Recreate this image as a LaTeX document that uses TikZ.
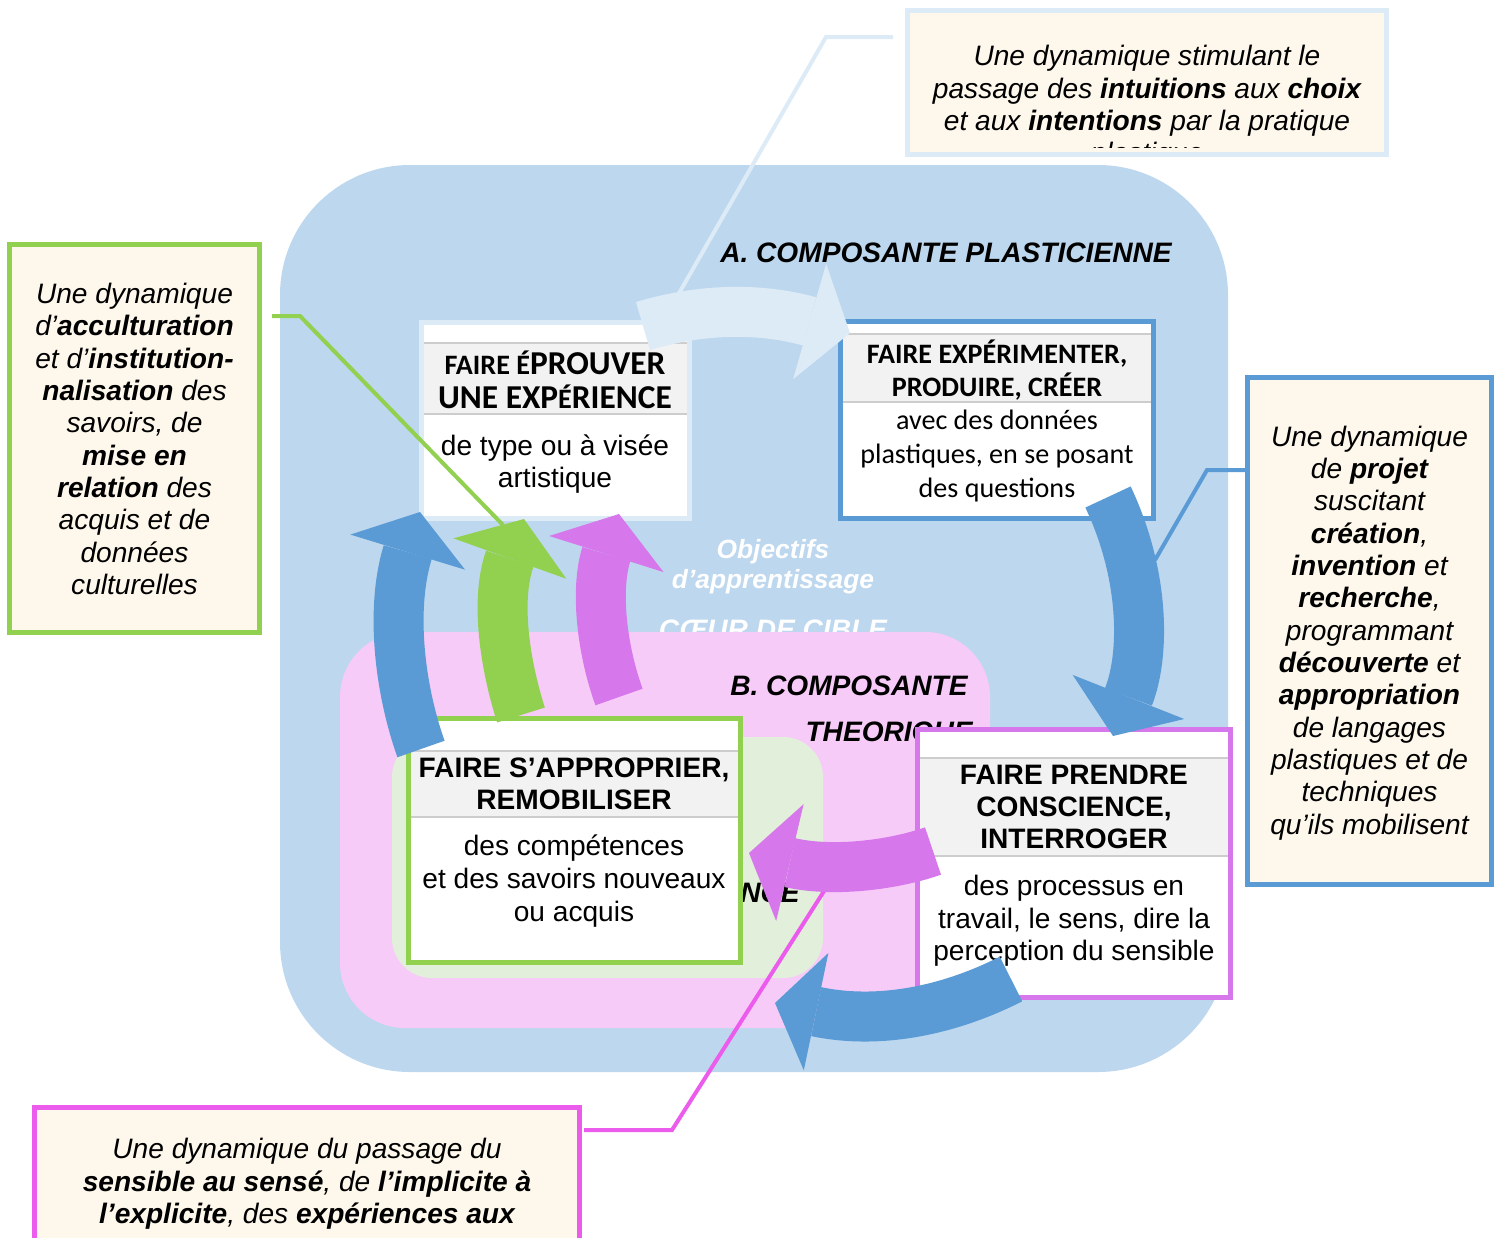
\documentclass[tikz,border=0pt]{standalone}
\usepackage{fontspec}
\setmainfont{Liberation Sans}
\newfontfamily\calibri{Carlito}
\usetikzlibrary{arrows.meta}
\definecolor{fondA}{RGB}{189,215,238}
\definecolor{fondB}{RGB}{247,203,248}
\definecolor{fondC}{RGB}{226,239,218}
\definecolor{bleu}{RGB}{91,155,213}
\definecolor{vert}{RGB}{146,208,80}
\definecolor{mauve}{RGB}{214,120,236}
\definecolor{rose}{RGB}{236,92,236}
\definecolor{ciel}{RGB}{221,235,247}
\definecolor{creme}{RGB}{254,248,236}
\definecolor{gris}{RGB}{242,242,242}
\definecolor{trait}{RGB}{205,205,205}
\begin{document}
\begin{tikzpicture}[x=0.02cm, y=-0.02cm,
	execute at begin picture={\fontsize{16}{18.4}\selectfont},
	bloc/.style={draw, line width=0.1cm, fill=white, inner sep=0pt},
	bulle/.style={draw, line width=0.1cm, fill=creme, inner sep=0pt},
	txt/.style={align=center, inner sep=0pt},
	titre/.style={txt, font=\bfseries\itshape},
	bande/.style={draw=trait, line width=0.6pt},
	fleche/.style={line width=1cm, -{Triangle[width=2.4cm, length=0.84cm, line width=0pt]}},
	lien/.style={line width=0.08cm}]
	\useasboundingbox (0,0) rectangle (1499,1238);
	% fonds
	\fill[fondA, rounded corners=2.6cm] (280,165) rectangle (1228,1072);
	\node[titre, anchor=east] (compA) at (1172,253) {A. COMPOSANTE PLASTICIENNE};
	\node[titre, text=white, font=\bfseries\itshape\fontsize{15}{17}\selectfont] (objectifs) at (773,567) {Objectifs\\d’apprentissage};
	\node[titre, text=white] (coeur) at (773,630) {CŒUR DE CIBLE};
	\fill[fondB, rounded corners=1.3cm] (340,632) rectangle (990,1028);
	\node[titre, anchor=east] (compB) at (968,686) {B. COMPOSANTE};
	\node[titre, anchor=east] (compB2) at (973,734) {THEORIQUE};
	\fill[fondC, rounded corners=0.8cm] (392,737) rectangle (823,978);
	\node[titre, anchor=east] (compC) at (800,893) {NCE};
	% les quatre cadres
	\node[bloc, draw=ciel, minimum width=5.36cm, minimum height=3.92cm] (eprouver) at (555.5,420.5) {};
	\fill[gris] (424,343) rectangle (687,414);
	\draw[bande] (424,343) -- (687,343) (424,414) -- (687,414);
	\node[txt, font=\calibri\bfseries\fontsize{19}{19.4}\selectfont] (eprouverT) at (555,380)
		{{\fontsize{16}{19.4}\selectfont FAIRE É}PROUVER\\UNE EXP{\fontsize{16}{19.4}\selectfont É}RIENCE};
	\node[txt] (eprouverB) at (555,464) {de type ou à visée\\artistique};
	\node[bloc, draw=bleu, minimum width=6.26cm, minimum height=3.94cm] (produire) at (997,420) {};
	\fill[gris] (843,334) rectangle (1151,402);
	\draw[bande] (843,334) -- (1151,334) (843,402) -- (1151,402);
	\node[txt, font=\calibri\bfseries\fontsize{16}{19}\selectfont] (produireT) at (997,370) {FAIRE EXPÉRIMENTER,\\PRODUIRE, CRÉER};
	\node[txt, font=\calibri\fontsize{16}{19.6}\selectfont] (produireB) at (997,456) {avec des données\\plastiques, en se posant\\des questions};
	\node[bloc, draw=vert, minimum width=6.64cm, minimum height=4.88cm] (approprier) at (574.5,840.5) {};
	\fill[gris] (411,751) rectangle (738,817);
	\draw[bande] (411,751) -- (738,751) (411,817) -- (738,817);
	\node[txt, font=\bfseries] (approprierT) at (574,784) {FAIRE S’APPROPRIER,\\REMOBILISER};
	\node[txt, font=\fontsize{16}{19}\selectfont] (approprierB) at (574,881) {des compétences\\et des savoirs nouveaux\\ou acquis};
	\node[bloc, draw=mauve, minimum width=6.26cm, minimum height=5.36cm] (conscience) at (1074,863.5) {};
	\fill[gris] (920,758) rectangle (1228,856);
	\draw[bande] (920,758) -- (1228,758) (920,856) -- (1228,856);
	\node[txt, font=\bfseries] (conscienceT) at (1074,807) {FAIRE PRENDRE\\CONSCIENCE,\\INTERROGER};
	\node[txt] (conscienceB) at (1074,921) {des processus en\\travail, le sens, dire la\\perception du sensible};
	% bulles
	\node[bulle, draw=ciel, minimum width=9.58cm, minimum height=2.88cm] (dynHaut) at (1147,82.5) {};
	\begin{scope}
		\clip (910,13) rectangle (1384,147);
		\node[txt, font=\itshape] (dynHautT) at (1147,107) {Une dynamique stimulant le\\passage des \textbf{intuitions} aux \textbf{choix}\\et aux \textbf{intentions} par la pratique\\plastique};
	\end{scope}
	\node[bulle, draw=vert, minimum width=5cm, minimum height=7.76cm] (dynGauche) at (134.5,438.5) {};
	\node[txt, font=\itshape] (dynGaucheT) at (134.5,439) {Une dynamique\\d’\textbf{acculturation}\\et d’\textbf{institution-}\\\textbf{nalisation} des\\savoirs, de\\\textbf{mise en}\\\textbf{relation} des\\acquis et de\\données\\culturelles};
	\node[bulle, draw=bleu, minimum width=4.88cm, minimum height=10.14cm] (dynDroite) at (1369.5,631) {};
	\node[txt, font=\itshape] (dynDroiteT) at (1369.5,633) {Une dynamique\\de \textbf{projet}\\suscitant\\\textbf{création},\\\textbf{invention} et\\\textbf{recherche},\\programmant\\\textbf{découverte} et\\\textbf{appropriation}\\de langages\\plastiques et de\\techniques\\qu’ils mobilisent};
	\node[bulle, draw=rose, minimum width=10.9cm, minimum height=3.85cm] (dynBas) at (307,1203.75) {};
	\node[txt, font=\itshape] (dynBasT) at (307,1184) {Une dynamique du passage du\\\textbf{sensible au sensé}, de \textbf{l’implicite à}\\\textbf{l’explicite}, des \textbf{expériences aux}};
	% traits de rappel
	\coordinate (rA) at (893,37); \coordinate (sA) at (678,295);
	\coordinate (rB) at (272,316); \coordinate (sB) at (503,525);
	\coordinate (rC) at (1245,470); \coordinate (sC) at (1155,560);
	\coordinate (rD) at (584,1130); \coordinate (sD) at (826,888);
	\draw[lien, ciel] (rA) -- (826,37) -- (sA);
	\draw[lien, vert] (rB) -- (300,316) -- (sB);
	\draw[lien, bleu] (rC) -- (1207,470) -- (sC);
	\draw[lien, rose] (rD) -- (672,1130) -- (sD);
	% fleches
	\coordinate (a1) at (643,326); \coordinate (b1) at (850,333);
	\coordinate (a2) at (1108,497); \coordinate (b2) at (1113,736);
	\coordinate (a3) at (1011,979); \coordinate (b3) at (775,1003);
	\coordinate (a4) at (933,851); \coordinate (b4) at (749,853);
	\coordinate (a5) at (421,749); \coordinate (b5) at (420,512);
	\coordinate (a6) at (521,715); \coordinate (b6) at (524,519);
	\coordinate (a7) at (619,697); \coordinate (b7) at (619,514);
	\draw[fleche, ciel] (a1) .. controls (720,303) and (780,313) .. (b1);
	\draw[fleche, bleu] (a2) .. controls (1145,575) and (1145,655) .. (b2);
	\draw[fleche, bleu] (a3) .. controls (950,1010) and (880,1025) .. (b3);
	\draw[fleche, mauve] (a4) .. controls (890,866) and (830,872) .. (b4);
	\draw[fleche, bleu] (a5) .. controls (400,690) and (390,610) .. (b5);
	\draw[fleche, vert] (a6) .. controls (505,665) and (495,600) .. (b6);
	\draw[fleche, mauve] (a7) .. controls (602,650) and (595,590) .. (b7);
\end{tikzpicture}
\end{document}
